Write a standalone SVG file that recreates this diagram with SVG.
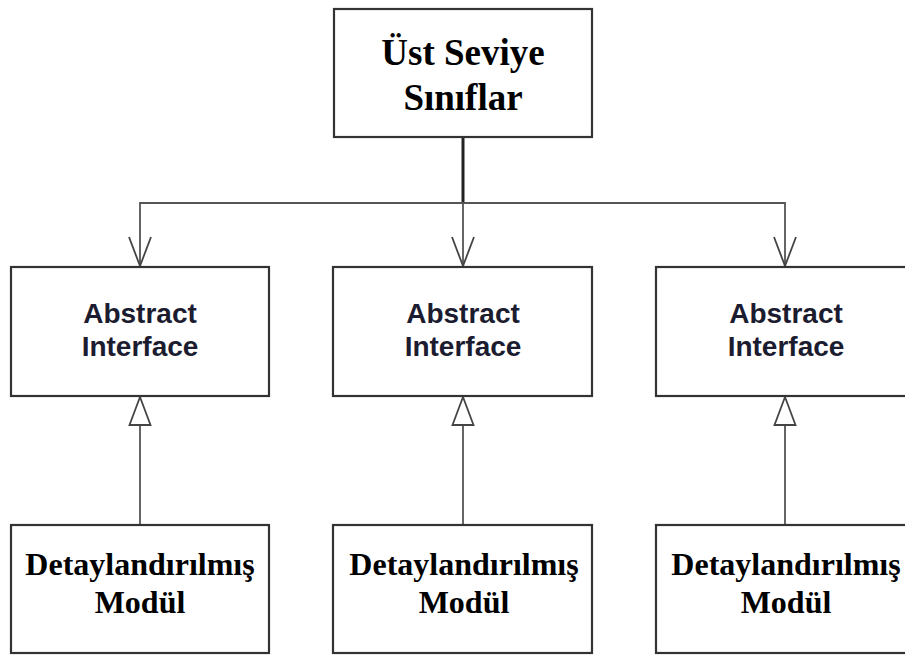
<svg xmlns="http://www.w3.org/2000/svg" width="905" height="655" viewBox="0 0 905 655">
  <style>
    .box { fill: #ffffff; stroke: #333333; stroke-width: 2.2; }
    .serif { font-family: "Liberation Serif", "Times New Roman", serif; font-weight: bold; fill: #000000; text-anchor: middle; }
    .sans { font-family: "Liberation Sans", Arial, sans-serif; font-weight: bold; fill: #1c1c30; text-anchor: middle; font-size: 28px; }
    .wire { fill: none; stroke: #555555; stroke-width: 1.8; }
    .head { fill: none; stroke: #444444; stroke-width: 1.8; stroke-linejoin: miter; }
    .tri { fill: #ffffff; stroke: #444444; stroke-width: 1.8; }
  </style>

  <!-- connectors -->
  <g id="connectors">
    <line x1="463" y1="137" x2="463" y2="203" stroke="#222222" stroke-width="3"/>
    <polyline class="wire" points="140,266 140,203 785,203 785,266"/>
    <line class="wire" x1="463" y1="203" x2="463" y2="266"/>
    <polyline class="head" points="129,237 140,266 151,237"/>
    <polyline class="head" points="452,237 463,266 474,237"/>
    <polyline class="head" points="774,237 785,266 796,237"/>

    <line class="wire" x1="140" y1="425" x2="140" y2="525"/>
    <line class="wire" x1="463" y1="425" x2="463" y2="525"/>
    <line class="wire" x1="785" y1="425" x2="785" y2="525"/>
    <polygon class="tri" points="140,397 129.5,425 150.5,425"/>
    <polygon class="tri" points="463,397 452.5,425 473.5,425"/>
    <polygon class="tri" points="785,397 774.5,425 795.5,425"/>
  </g>

  <g id="top">
    <rect class="box" x="334" y="9" width="258" height="128"/>
    <text class="serif" font-size="37" x="463" y="65">Üst Seviye</text>
    <text class="serif" font-size="37" x="463" y="110">Sınıflar</text>
  </g>

  <g id="iface-left">
    <rect class="box" x="11" y="267" width="258" height="129"/>
    <text class="sans" x="140" y="323">Abstract</text>
    <text class="sans" x="140" y="356">Interface</text>
  </g>
  <g id="iface-mid">
    <rect class="box" x="333" y="267" width="259" height="129"/>
    <text class="sans" x="463" y="323">Abstract</text>
    <text class="sans" x="463" y="356">Interface</text>
  </g>
  <g id="iface-right">
    <rect class="box" x="656" y="267" width="259" height="129"/>
    <text class="sans" x="786" y="323">Abstract</text>
    <text class="sans" x="786" y="356">Interface</text>
  </g>

  <g id="module-left">
    <rect class="box" x="11" y="525" width="258" height="128"/>
    <text class="serif" font-size="32" x="140" y="575">Detaylandırılmış</text>
    <text class="serif" font-size="32" x="140" y="613">Modül</text>
  </g>
  <g id="module-mid">
    <rect class="box" x="333" y="525" width="259" height="128"/>
    <text class="serif" font-size="32" x="464" y="575">Detaylandırılmış</text>
    <text class="serif" font-size="32" x="464" y="613">Modül</text>
  </g>
  <g id="module-right">
    <rect class="box" x="656" y="525" width="259" height="128"/>
    <text class="serif" font-size="32" x="786" y="575">Detaylandırılmış</text>
    <text class="serif" font-size="32" x="786" y="613">Modül</text>
  </g>
</svg>
